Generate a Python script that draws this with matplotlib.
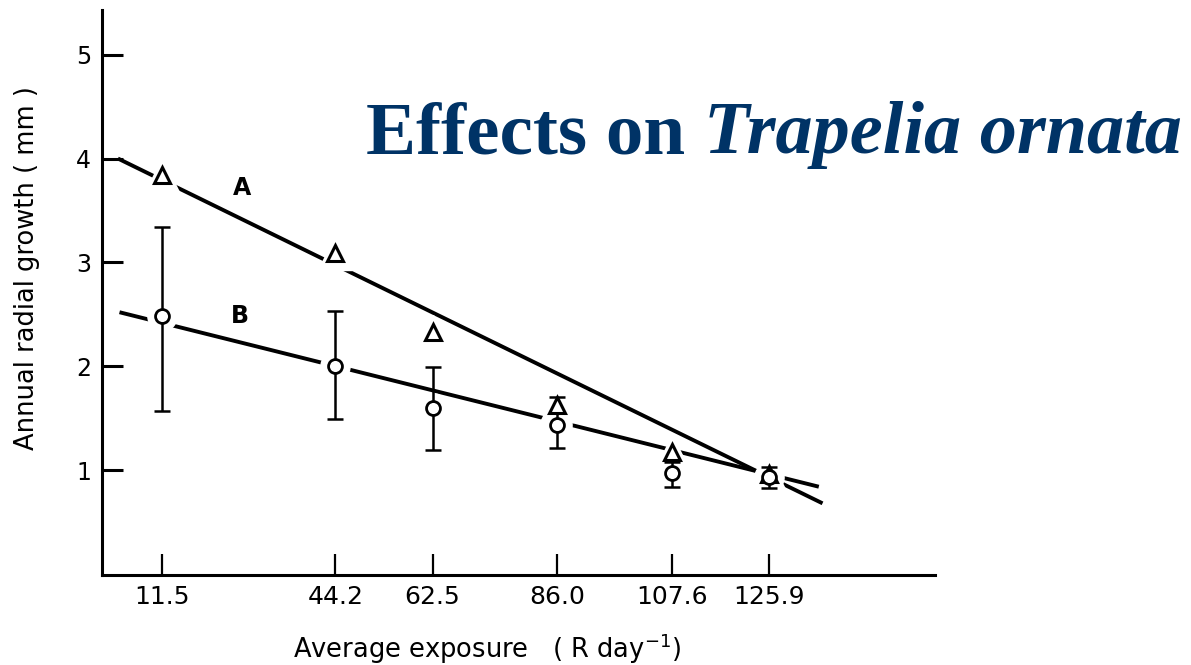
import matplotlib
matplotlib.use("Agg")
import matplotlib.pyplot as plt

# ---- data ----
exposure = [11.5, 44.2, 62.5, 86.0, 107.6, 125.9]
tick_labels = ["11.5", "44.2", "62.5", "86.0", "107.6", "125.9"]
growth_A = [3.84, 3.09, 2.33, 1.63, 1.17, 0.96]
growth_B = [2.48, 2.00, 1.60, 1.43, 0.97, 0.93]
B_low = [1.57, 1.49, 1.19, 1.21, 0.84, 0.83]
B_high = [3.34, 2.53, 1.99, 1.70, 1.08, 1.03]
lineA_x = [3.2, 136.0]
lineA_y = [4.00, 0.68]
lineB_x = [3.5, 135.3]
lineB_y = [2.52, 0.84]
yticks = [1, 2, 3, 4, 5]

fig = plt.figure(figsize=(11.91, 6.65), dpi=100)
ax = fig.add_axes([102/1191, 90/665, 833/1191, 565/665])
ax.set_xlim(0.2, 157.2)
ax.set_ylim(-0.01, 5.43)

# regression lines
ax.plot(lineA_x, lineA_y, color="black", lw=2.8, solid_capstyle="butt", zorder=1)
ax.plot(lineB_x, lineB_y, color="black", lw=2.8, solid_capstyle="butt", zorder=1)

# white halos to break lines around markers
ax.plot(exposure, growth_A, ls="none", marker="^", ms=24, mfc="white", mec="white", zorder=2)
ax.plot(exposure, growth_B, ls="none", marker="o", ms=21, mfc="white", mec="white", zorder=2)

# error bars for B
yerr = [[g - l for g, l in zip(growth_B, B_low)], [h - g for g, h in zip(growth_B, B_high)]]
ax.errorbar(exposure, growth_B, yerr=yerr, fmt="none", ecolor="black", elinewidth=1.8,
            capsize=6, capthick=1.8, zorder=3)

# markers
ax.plot(exposure, growth_A, ls="none", marker="^", ms=11, mfc="white", mec="black", mew=2.2, zorder=4)
ax.plot(exposure, growth_B, ls="none", marker="o", ms=10, mfc="white", mec="black", mew=2.0, zorder=4)

# curve labels
ax.text(26.6, 3.72, "A", fontsize=17, fontweight="bold", ha="center", va="center")
ax.text(26.2, 2.48, "B", fontsize=17, fontweight="bold", ha="center", va="center")

# axes styling
for s in ["top", "right"]:
    ax.spines[s].set_visible(False)
ax.spines["left"].set_linewidth(2.2)
ax.spines["bottom"].set_linewidth(2.2)

ax.set_xticks(exposure)
ax.set_xticklabels(tick_labels, fontsize=18)
ax.set_yticks(yticks)
ax.set_yticklabels([str(v) for v in yticks], fontsize=17)
ax.tick_params(axis="y", direction="in", length=15, width=2.2, pad=8)
ax.tick_params(axis="x", direction="in", length=15, width=1.6, pad=7)

ax.set_ylabel("Annual radial growth ( mm )", fontsize=18.5)
ax.yaxis.set_label_coords(-0.0745, 0.543)
ax.set_xlabel("Average exposure   ( R day$^{-1}$)", fontsize=18.5)
ax.xaxis.set_label_coords(0.462, -0.100)

# title
t1 = fig.text(366/1191, 1 - 153/665, "Effects on ", fontsize=54, fontweight="bold",
              family="Liberation Serif", color="#003366", ha="left", va="baseline")
fig.canvas.draw()
ax.annotate("Trapelia ornata", xy=(1, 0), xycoords=t1, xytext=(0, 0), textcoords="offset points",
            fontsize=53.5, fontweight="bold", fontstyle="italic", family="Liberation Serif",
            color="#003366", ha="left", va="bottom", annotation_clip=False)

fig.savefig("out.png", dpi=100)
